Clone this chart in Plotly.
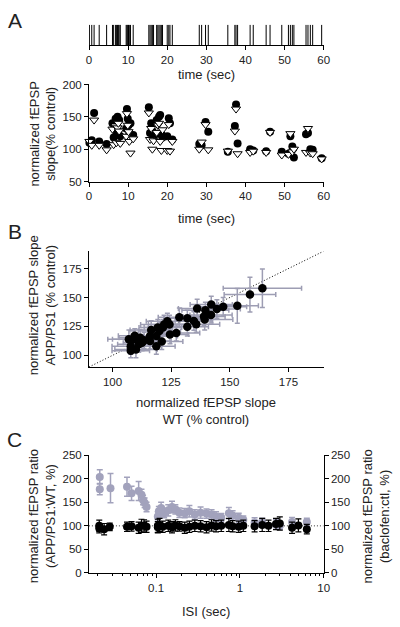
import plotly.graph_objects as go

# ---------------- data ----------------
# Panel A: spike (stimulus) times, sec
spike_times = [0.1, 0.7, 1.3, 2.6, 4.5, 6.0, 6.3, 6.8, 7.0, 7.3, 7.5, 7.7, 8.0,
               9.5, 9.7, 9.9, 10.1, 10.3, 10.6, 11.3, 15.3, 15.6, 15.9, 16.2, 16.5,
               17.3, 17.6, 17.9, 18.2, 18.5, 18.8, 20.0, 20.4, 20.7, 21.3,
               28.2, 28.8, 29.8, 30.5, 35.5, 37.3, 37.6, 38.0, 41.2, 42.0,
               45.3, 46.3, 49.3, 51.0, 51.5, 52.0, 52.4, 55.5, 56.0, 56.6, 57.2, 59.5]
# normalized fEPSP slope at each spike (filled circles / open triangles)
slope_circle = [110, 114, 156, 112, 108, 140, 118, 147, 124, 150, 128, 145, 120,
                132, 162, 147, 137, 124, 140, 122, 165, 125, 140, 128, 120,
                145, 124, 150, 153, 123, 118, 120, 148, 140, 115,
                108, 106, 142, 127, 96, 136, 169, 109, 100, 98,
                97, 127, 96, 93, 120, 104, 87, 123, 125, 100, 99, 86]
slope_triangle = [112, 106, 145, 106, 99, 131, 107, 136, 110, 133, 140, 128, 109,
                  120, 155, 137, 127, 112, 94, 116, 156, 115, 132, 100, 113,
                  126, 137, 140, 112, 98, 130, 98, 138, 97, 112,
                  100, 111, 138, 99, 97, 128, 162, 93, 95, 97,
                  95, 126, 91, 92, 124, 96, 100, 95, 132, 94, 93, 85]

# Panel B: WT vs APP/PS1 normalized slope (mean, error)
wt_mean = [163.9, 158.6, 153.2, 147.2, 142.1, 136.1, 139.6, 139.0, 139.3, 142.0,
           128.5, 131.9, 134.7, 131.9, 135.7, 124.3, 121.5, 120.0, 127.2, 124.5,
           118.7, 116.0, 111.8, 109.0, 107.0, 107.8, 110.0, 107.8, 111.2, 112.6,
           116.0, 118.7, 116.5, 119.3, 122.0, 123.4, 109.5, 113.5, 121.0, 144.5]
app_mean = [158.0, 152.5, 142.8, 142.0, 144.0, 140.6, 139.0, 133.6, 131.0, 135.0,
            133.0, 132.0, 129.7, 124.7, 127.0, 126.7, 124.0, 121.0, 119.4, 118.0,
            116.7, 116.7, 115.3, 114.0, 114.0, 108.0, 105.0, 104.0, 109.7, 111.0,
            112.5, 108.0, 122.0, 124.0, 126.7, 129.4, 117.0, 113.0, 112.0, 140.0]
wt_err = [16.7, 11.0, 9.0, 10.0, 9.0, 8.0, 10.0, 9.0, 12.0, 9.0,
          9.0, 10.0, 8.0, 9.0, 10.0, 9.0, 8.0, 9.0, 10.0, 8.0,
          9.0, 8.0, 9.0, 9.0, 9.0, 8.0, 9.0, 8.0, 9.0, 8.0,
          9.0, 8.0, 9.0, 8.0, 10.0, 9.0, 7.0, 8.0, 9.0, 10.0]
app_err = [16.7, 15.0, 15.0, 8.0, 7.0, 8.0, 7.0, 8.0, 9.0, 7.0,
           8.0, 7.0, 8.0, 8.0, 7.0, 8.0, 7.0, 8.0, 7.0, 8.0,
           7.0, 8.0, 7.0, 7.0, 8.0, 7.0, 7.0, 6.0, 7.0, 7.0,
           7.0, 7.0, 8.0, 7.0, 8.0, 7.0, 6.0, 7.0, 7.0, 8.0]

# Panel C: ratio vs inter-stimulus interval
isi_gray = [0.0213, 0.0213, 0.0286, 0.045, 0.051, 0.062, 0.067, 0.070, 0.073, 0.077,
            0.105, 0.108, 0.115, 0.125, 0.14, 0.155, 0.17, 0.19, 0.22, 0.25,
            0.29, 0.34, 0.40, 0.46, 0.52, 0.60, 0.74, 0.82, 0.97, 1.1,
            1.5, 1.85, 2.7, 3.0, 4.2, 6.3]
ratio_gray = [204, 178, 180, 183, 169, 174, 166, 155, 149, 140,
              120, 131, 138, 127, 133, 140, 135, 128, 127, 131,
              124, 128, 126, 124, 120, 118, 127, 122, 117, 113,
              107, 108, 103, 100, 108, 108]
err_gray = [15, 12, 31, 20, 15, 20, 12, 10, 10, 10,
            10, 10, 12, 10, 12, 12, 10, 10, 10, 12,
            10, 12, 10, 10, 10, 8, 12, 10, 10, 8,
            10, 8, 10, 8, 10, 8]
isi_black = [0.021, 0.021, 0.024, 0.028, 0.045, 0.051, 0.062, 0.067, 0.072, 0.077,
             0.105, 0.105, 0.11, 0.12, 0.14, 0.155, 0.17, 0.19, 0.22, 0.25,
             0.29, 0.34, 0.40, 0.46, 0.52, 0.60, 0.74, 0.82, 0.97, 1.1,
             1.5, 1.85, 2.2, 2.7, 3.0, 4.2, 5.0, 6.3]
ratio_black = [100, 95, 93, 98, 98, 99, 96, 100, 101, 98,
               100, 97, 102, 98, 100, 97, 101, 99, 96, 98,
               100, 99, 97, 101, 99, 100, 102, 99, 98, 100,
               99, 102, 100, 104, 105, 96, 101, 93]
err_black = [12, 10, 12, 8, 10, 10, 12, 14, 12, 12,
             14, 12, 14, 12, 12, 12, 12, 10, 12, 12,
             12, 12, 12, 12, 12, 12, 14, 12, 12, 12,
             12, 14, 12, 12, 14, 12, 14, 10]

# ---------------- style ----------------
FONT = "Liberation Sans, Arial, sans-serif"
TXT = "#222222"
GRAY = "#a2a2bc"
GRAY_BAR = "#9d9db3"
W, H = 400, 627


def px(x):
    return x / W


def py(y):
    return 1 - y / H


fig = go.Figure()

# --- Panel A raster ---
rx, ry = [], []
for t in spike_times:
    rx += [t, t, None]
    ry += [0, 1, None]
fig.add_trace(go.Scatter(x=rx, y=ry, mode="lines", line=dict(color="black", width=1),
                         xaxis="x", yaxis="y", hoverinfo="skip"))

# --- Panel A scatter ---
fig.add_trace(go.Scatter(x=spike_times, y=slope_circle, mode="markers",
                         marker=dict(symbol="circle", size=8, color="black"),
                         xaxis="x2", yaxis="y2", cliponaxis=False))
fig.add_trace(go.Scatter(x=spike_times, y=slope_triangle, mode="markers",
                         marker=dict(symbol="triangle-down", size=8, color="white",
                                     line=dict(color="black", width=1)),
                         xaxis="x2", yaxis="y2", cliponaxis=False))

# --- Panel B ---
fig.add_trace(go.Scatter(x=[90, 190], y=[90, 190], mode="lines",
                         line=dict(color="black", width=1, dash="1px,2px"),
                         xaxis="x3", yaxis="y3"))
fig.add_trace(go.Scatter(x=wt_mean, y=app_mean, mode="markers",
                         marker=dict(size=1, color=GRAY_BAR),
                         error_x=dict(type="data", array=wt_err, color=GRAY_BAR, thickness=1.5, width=2.5),
                         error_y=dict(type="data", array=app_err, color=GRAY_BAR, thickness=1.5, width=2.5),
                         xaxis="x3", yaxis="y3"))
fig.add_trace(go.Scatter(x=wt_mean, y=app_mean, mode="markers",
                         marker=dict(size=8.5, color="black"),
                         xaxis="x3", yaxis="y3"))

# --- Panel C ---
fig.add_trace(go.Scatter(x=[0.0158, 10], y=[100, 100], mode="lines",
                         line=dict(color="#333333", width=1, dash="1px,2px"),
                         xaxis="x4", yaxis="y4"))
fig.add_trace(go.Scatter(x=isi_gray, y=ratio_gray, mode="markers",
                         marker=dict(size=8, color=GRAY),
                         error_y=dict(type="data", array=err_gray, color=GRAY, thickness=1.5, width=3),
                         xaxis="x4", yaxis="y4"))
fig.add_trace(go.Scatter(x=isi_black, y=ratio_black, mode="markers",
                         marker=dict(size=8, color="black"),
                         error_y=dict(type="data", array=err_black, color="black", thickness=1.2, width=3),
                         xaxis="x4", yaxis="y5"))

tickfont = dict(family=FONT, size=11.5, color=TXT)
common = dict(showgrid=False, zeroline=False, showline=True, linecolor="black", linewidth=1,
              ticks="outside", ticklen=4, tickcolor="black", tickfont=tickfont)

xdom = [px(88), px(328)]
minor_vals = [k * 10 ** e for e in (-2, -1, 0) for k in range(2, 10)]

fig.update_layout(
    width=W, height=H, margin=dict(l=0, r=0, t=0, b=0),
    paper_bgcolor="white", plot_bgcolor="white", showlegend=False,
    font=dict(family=FONT, color=TXT),
    xaxis=dict(domain=xdom, anchor="y", range=[0, 60], tickvals=[0, 10, 20, 30, 40, 50, 60], **common),
    yaxis=dict(domain=[py(40), py(19)], anchor="x", range=[0, 1], visible=False),
    xaxis2=dict(domain=xdom, anchor="y2", range=[0, 60], tickvals=[0, 10, 20, 30, 40, 50, 60], **common),
    yaxis2=dict(domain=[py(179), py(80)], anchor="x2", range=[50, 200], tickvals=[50, 100, 150, 200], **common),
    xaxis3=dict(domain=xdom, anchor="y3", range=[90, 190], tickvals=[100, 125, 150, 175], **common),
    yaxis3=dict(domain=[py(368), py(250)], anchor="x3", range=[90, 190], tickvals=[100, 125, 150, 175], **common),
    xaxis4=dict(domain=xdom, anchor="y4", type="log", range=[-1.8, 1],
                tickvals=[0.1, 1, 10], ticktext=["0.1", "1", "10"],
                minor=dict(ticks="outside", ticklen=2.5, tickcolor="black", tickvals=minor_vals),
                **common),
    yaxis4=dict(domain=[py(578), py(458)], anchor="x4", range=[0, 250],
                tickvals=[0, 50, 100, 150, 200, 250], **common),
    yaxis5=dict(overlaying="y4", anchor="x4", side="right", range=[0, 250],
                tickvals=[0, 50, 100, 150, 200, 250], **common),
)

ann = []
def label(text, x, y, size=12.5, angle=0):
    ann.append(dict(text=text, x=px(x), y=py(y), xref="paper", yref="paper", showarrow=False,
                    font=dict(family=FONT, size=size, color=TXT), textangle=angle,
                    xanchor="center", yanchor="middle"))

label("A", 12, 15, size=21)
label("B", 12, 230, size=21)
label("C", 12, 442, size=21)
label("time (sec)", 208, 70, size=13)
label("time (sec)", 208, 217, size=13)
label("normalized fEPSP<br>slope(% control)", 40, 130, size=13, angle=-90)
label("normalized fEPSP slope<br>APP/PS1 (% control)", 40, 305, size=13, angle=-90)
label("normalized fEPSP slope<br>WT (% control)", 208, 413, size=13)
label("normalized fEPSP ratio<br>(APP/PS1:WT, %)", 40, 520, size=13, angle=-90)
label("normalized fEPSP ratio<br>(baclofen:ctl, %)", 382, 520, size=13, angle=-90)
label("ISI (sec)", 208, 617, size=13)
fig.update_layout(annotations=ann)

fig.write_html("out.html", config={"displayModeBar": False},
               post_script="document.body.style.margin='0';document.body.style.padding='0';"
                           "document.body.style.overflow='hidden';")
